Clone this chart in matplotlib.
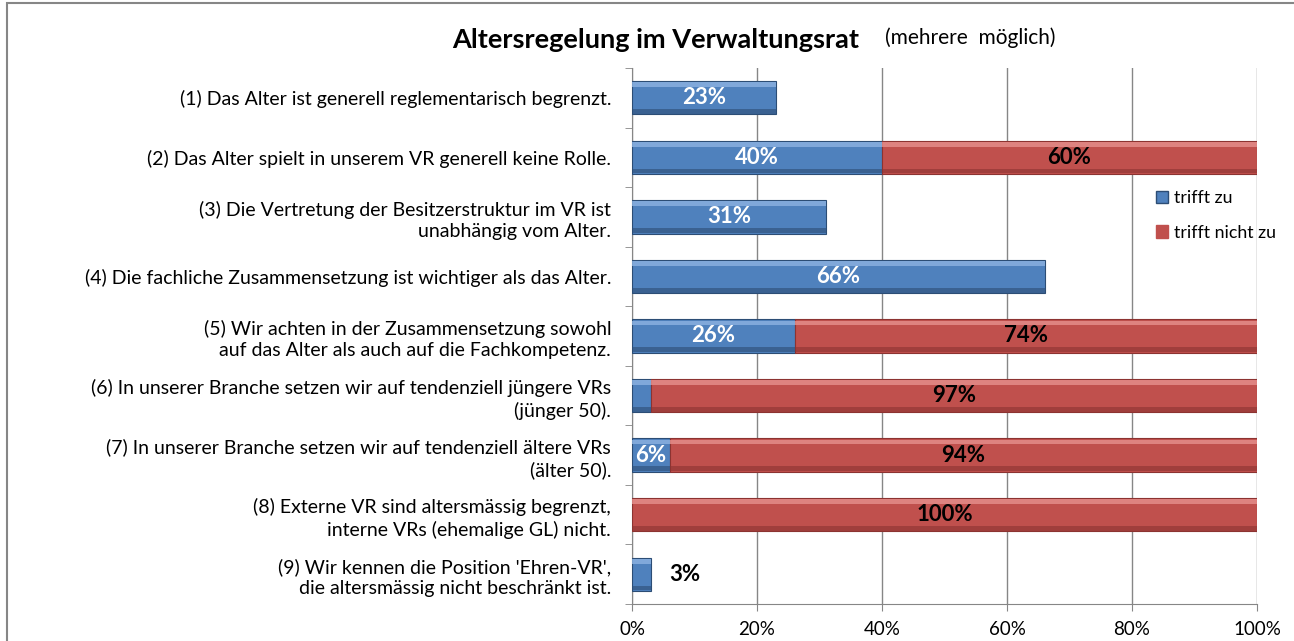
import matplotlib.pyplot as plt
from matplotlib.patches import Patch, Rectangle

plt.rcParams['font.family'] = ['Lato', 'DejaVu Sans']

# --- data ---
statements = [
    "(1) Das Alter ist generell reglementarisch begrenzt.",
    "(2) Das Alter spielt in unserem VR generell keine Rolle.",
    "(3) Die Vertretung der Besitzerstruktur im VR ist\nunabhängig vom Alter.",
    "(4) Die fachliche Zusammensetzung ist wichtiger als das Alter.",
    "(5) Wir achten in der Zusammensetzung sowohl\nauf das Alter als auch auf die Fachkompetenz.",
    "(6) In unserer Branche setzen wir auf tendenziell jüngere VRs\n(jünger 50).",
    "(7) In unserer Branche setzen wir auf tendenziell ältere VRs\n(älter 50).",
    "(8) Externe VR sind altersmässig begrenzt,\ninterne VRs (ehemalige GL) nicht.",
    "(9) Wir kennen die Position 'Ehren-VR',\ndie altersmässig nicht beschränkt ist.",
]
trifft_zu = [23, 40, 31, 66, 26, 3, 6, 0, 3]
trifft_nicht_zu = [0, 60, 0, 0, 74, 97, 94, 100, 0]
series_names = ["trifft zu", "trifft nicht zu"]
x_ticks = [0, 20, 40, 60, 80, 100]

BLUE, BLUE_HI, BLUE_LO = "#4F81BD", "#8DB3E2", "#2C4D75"
RED, RED_HI, RED_LO = "#C0504D", "#E6908D", "#8C3331"

fig = plt.figure(figsize=(12.94, 6.41), dpi=100)
ax = fig.add_axes([632 / 1294, 1 - 604 / 641, 625 / 1294, 536 / 641])

ypos = list(range(len(statements)))
h = 0.56


def bevel_bars(lefts, widths, base, hi, lo):
    # base bar + light top band + dark bottom band to mimic the Excel bevel
    keep = [i for i, w in enumerate(widths) if w > 0]
    ys = [ypos[i] for i in keep]
    ws = [widths[i] for i in keep]
    ls = [lefts[i] for i in keep]
    ax.barh(ys, ws, left=ls, height=h, color=base, edgecolor=lo,
            linewidth=0.8, zorder=3)
    ax.barh([y - h / 2 + 0.06 for y in ys], ws, left=ls, height=0.08,
            color=hi, linewidth=0, zorder=4, alpha=0.8)
    ax.barh([y + h / 2 - 0.05 for y in ys], ws, left=ls, height=0.08,
            color=lo, linewidth=0, zorder=4, alpha=0.6)


bevel_bars([0] * len(trifft_zu), trifft_zu, BLUE, BLUE_HI, BLUE_LO)
bevel_bars(trifft_zu, trifft_nicht_zu, RED, RED_HI, RED_LO)

# value labels
for y, b, r in zip(ypos, trifft_zu, trifft_nicht_zu):
    if b > 0:
        if r == 0 and b < 5:
            ax.text(b + 5.5, y, f"{b}%", ha='center', va='center', fontsize=16,
                    fontweight='bold', color='black', zorder=6)
        elif b >= 5:
            ax.text(b / 2, y, f"{b}%", ha='center', va='center', fontsize=16,
                    fontweight='bold', color='white', zorder=6)
    if r > 0:
        ax.text(b + r / 2, y, f"{r}%", ha='center', va='center', fontsize=16,
                fontweight='bold', color='black', zorder=6)

ax.set_xlim(0, 100)
ax.set_ylim(len(statements) - 0.5, -0.5)
ax.set_xticks(x_ticks)
ax.set_xticklabels([f"{v}%" for v in x_ticks], fontsize=13.5)
ax.set_yticks(ypos)
ax.set_yticklabels(statements, fontsize=14, linespacing=1.3)
ax.tick_params(axis='y', length=0, pad=15)
ax.set_yticks([y + 0.5 for y in [-1] + ypos], minor=True)
ax.tick_params(axis='y', which='minor', length=5, color='#868686')
ax.tick_params(axis='x', length=5, color='#868686', pad=7)

ax.grid(axis='x', color='#868686', linewidth=1, zorder=2)
ax.set_axisbelow(True)
for s in ['top', 'right']:
    ax.spines[s].set_visible(False)
for s in ['left', 'bottom']:
    ax.spines[s].set_color('#868686')

handles = [Patch(facecolor=BLUE, edgecolor=BLUE_LO),
           Patch(facecolor=RED, edgecolor=RED)]
leg = fig.legend(handles, series_names, loc='upper left',
                 bbox_to_anchor=(1140 / 1294, 1 - 174 / 641), frameon=False,
                 fontsize=12.8, handlelength=0.7, handleheight=0.7,
                 handletextpad=0.3, labelspacing=1.05)

fig.text(656 / 1294, 1 - 40 / 641, "Altersregelung im Verwaltungsrat",
         ha='center', va='center', fontsize=19.5, fontweight='bold')
fig.text(970 / 1294, 1 - 38 / 641, "(mehrere  möglich)", ha='center',
         va='center', fontsize=15)

# outer chart border
fig.patches.append(Rectangle((7 / 1294, -0.1), 1.2, 1 - 3 / 641 + 0.1,
                             transform=fig.transFigure, fill=False,
                             edgecolor='#868686', linewidth=1.5))

fig.savefig("out.png", dpi=100)
